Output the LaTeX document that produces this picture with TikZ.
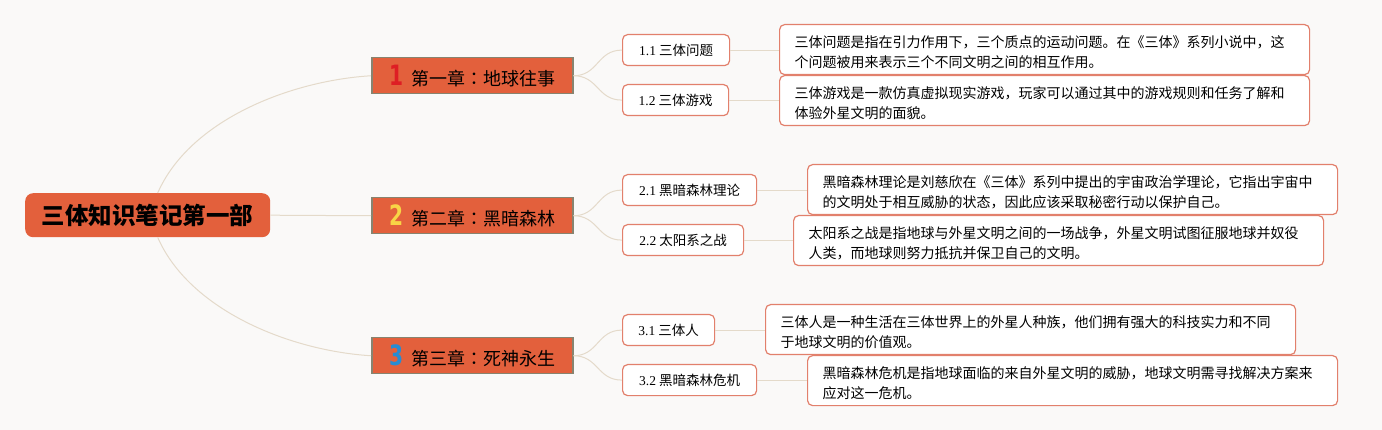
\documentclass[tikz,border=0pt]{standalone}
\usepackage{fontspec}
\setmainfont{Noto Sans CJK SC}
\newfontfamily\numfont{DejaVu Sans}
\newfontfamily\labnum{Liberation Serif}
\newfontfamily\jpcolon{Noto Sans CJK JP}
\definecolor{bgc}{RGB}{250,249,248}
\definecolor{orangec}{RGB}{227,96,60}
\definecolor{chapborder}{RGB}{135,132,112}
\definecolor{salmon}{RGB}{226,128,108}
\definecolor{linkc}{RGB}{228,218,202}
\definecolor{numred}{RGB}{222,30,36}
\definecolor{numyellow}{RGB}{248,212,70}
\definecolor{numblue}{RGB}{40,140,210}
\newcommand\mkchnum[2]{{\numfont\bfseries\fontsize{28}{28}\selectfont\color{#1}\scalebox{0.72}[1]{#2}}\hspace{8pt}}
\newcommand\lbnum[1]{{\labnum #1}}
\newcommand\ccolon{{\jpcolon ：}}
\tikzset{
  rootbox/.style={fill=orangec, rounded corners=8pt, minimum width=245pt, minimum height=44pt, inner sep=0pt, font=\fontsize{23.5}{23.5}\selectfont\bfseries},
  chapbox/.style={fill=orangec, draw=chapborder, line width=1.5pt, minimum width=201pt, minimum height=36pt, inner sep=0pt, anchor=north west, font=\fontsize{18}{18}\selectfont},
  subbox/.style={fill=white, draw=salmon, line width=1.2pt, rounded corners=5pt, minimum height=31pt, inner sep=0pt, anchor=north west, font=\fontsize{13.5}{13.5}\selectfont},
  descbox/.style={fill=white, draw=salmon, line width=1.2pt, rounded corners=5pt, minimum height=50pt, text width=500pt, inner xsep=15pt, inner ysep=0pt, align=left, anchor=north west, font=\fontsize{14}{20}\selectfont, execute at begin node={\rule{0pt}{18pt}}},
  link/.style={draw=linkc, line width=1pt}
}
\begin{document}
\begin{tikzpicture}[x=1pt,y=-1pt]
\useasboundingbox[fill=bgc] (0,0) rectangle (1382,430);

% root
\node[rootbox, anchor=north west] (root) at (25,193) {三体知识笔记第一部};

% chapters
\node[chapbox] (c1) at (371,57) {\mkchnum{numred}{1}第一章\ccolon 地球往事};
\node[chapbox] (c2) at (371,197) {\mkchnum{numyellow}{2}第二章\ccolon 黑暗森林};
\node[chapbox] (c3) at (371,337) {\mkchnum{numblue}{3}第三章\ccolon 死神永生};

% sub topics
\node[subbox, minimum width=107pt] (s11) at (622,34) {\lbnum{1.1} 三体问题};
\node[subbox, minimum width=106pt] (s12) at (622,84) {\lbnum{1.2} 三体游戏};
\node[subbox, minimum width=134pt] (s21) at (622,174) {\lbnum{2.1} 黑暗森林理论};
\node[subbox, minimum width=121pt] (s22) at (622,224) {\lbnum{2.2} 太阳系之战};
\node[subbox, minimum width=92pt] (s31) at (622,314) {\lbnum{3.1} 三体人};
\node[subbox, minimum width=134pt] (s32) at (622,364) {\lbnum{3.2} 黑暗森林危机};

% descriptions
\node[descbox] (d11) at (779,24) {三体问题是指在引力作用下，三个质点的运动问题。在《三体》系列小说中，这\\个问题被用来表示三个不同文明之间的相互作用。};
\node[descbox] (d12) at (779,75) {三体游戏是一款仿真虚拟现实游戏，玩家可以通过其中的游戏规则和任务了解和\\体验外星文明的面貌。};
\node[descbox] (d21) at (807,164) {黑暗森林理论是刘慈欣在《三体》系列中提出的宇宙政治学理论，它指出宇宙中\\的文明处于相互威胁的状态，因此应该采取秘密行动以保护自己。};
\node[descbox] (d22) at (793,215) {太阳系之战是指地球与外星文明之间的一场战争，外星文明试图征服地球并奴役\\人类，而地球则努力抵抗并保卫自己的文明。};
\node[descbox] (d31) at (765,304) {三体人是一种生活在三体世界上的外星人种族，他们拥有强大的科技实力和不同\\于地球文明的价值观。};
\node[descbox] (d32) at (807,355) {黑暗森林危机是指地球面临的来自外星文明的威胁，地球文明需寻找解决方案来\\应对这一危机。};

% root to chapters
\draw[link] ([xshift=10pt]root.north) .. controls ++(32,-73) and ++(-81,5) .. (c1.west);
\draw[link] (root.east) -- (c2.west);
\draw[link] ([xshift=10pt]root.south) .. controls ++(32,73) and ++(-81,-5) .. (c3.west);

% chapters to subs
\foreach \c/\a/\b in {c1/s11/s12, c2/s21/s22, c3/s31/s32}{
  \draw[link] (\c.east) .. controls ++(25,0) and ++(-25,0) .. (\a.west);
  \draw[link] (\c.east) .. controls ++(25,0) and ++(-25,0) .. (\b.west);
}

% subs to descriptions
\foreach \s/\d in {s11/d11, s12/d12, s21/d21, s22/d22, s31/d31, s32/d32}{
  \draw[link] (\s.east) -- (\s.east -| \d.west);
}
\end{tikzpicture}
\end{document}
